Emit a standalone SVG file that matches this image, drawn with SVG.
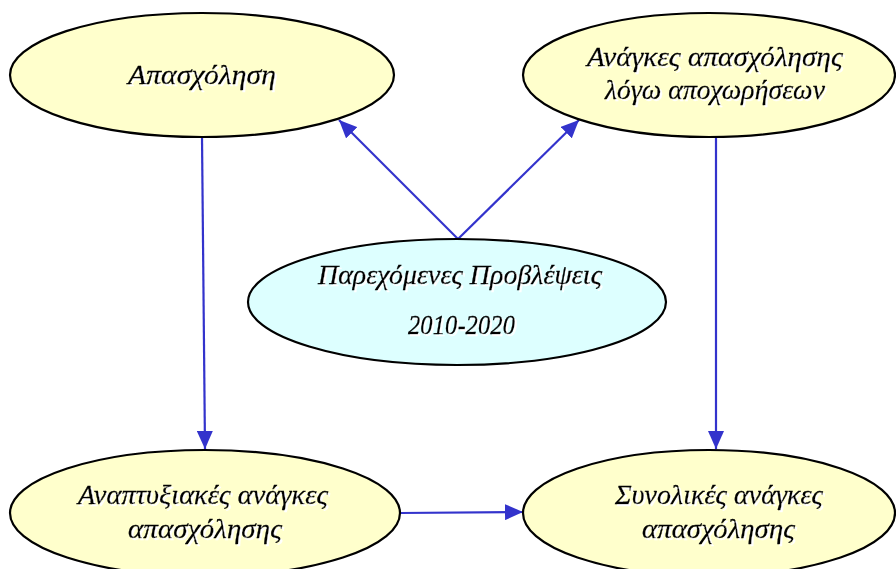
<svg xmlns="http://www.w3.org/2000/svg" width="896" height="569" viewBox="0 0 896 569">
<style>
.yel{fill:#FFFFCC;stroke:#000;stroke-width:2.2}
.cyan{fill:#DDFFFF;stroke:#000;stroke-width:2.2}
.t{font-family:"Liberation Serif","DejaVu Serif",serif;font-style:italic;font-size:28px;fill:#000;stroke:#000;stroke-width:0.3;text-anchor:start;filter:url(#sh)}
.c{stroke:#3333CC;stroke-width:2.2;fill:none;marker-end:url(#ah)}
</style>
<defs>
<filter id="sh" x="-10%" y="-30%" width="120%" height="160%">
<feDropShadow dx="2" dy="2" stdDeviation="0.6" flood-color="#FFFFFF" flood-opacity="1"/>
</filter>
<marker id="ah" markerUnits="userSpaceOnUse" markerWidth="18" markerHeight="16" refX="18" refY="8" orient="auto">
<path d="M0,0 L18,8 L0,16 Z" fill="#3333CC"/>
</marker>
</defs>
<rect width="896" height="569" fill="#FFFFFF"/>
<g id="connectors">
<line class="c" x1="202" y1="137" x2="205" y2="449"/>
<line class="c" x1="716" y1="137" x2="716" y2="449"/>
<line class="c" x1="400" y1="513" x2="523" y2="512"/>
<line class="c" x1="458" y1="239" x2="339" y2="120"/>
<line class="c" x1="458" y1="239" x2="579" y2="120"/>
</g>
<g id="n1">
<ellipse class="yel" cx="202" cy="75" rx="192" ry="62"/>
<text class="t" x="128" y="84" textLength="148" lengthAdjust="spacingAndGlyphs">Απασχόληση</text>
</g>
<g id="n2">
<ellipse class="yel" cx="709" cy="75" rx="186" ry="62"/>
<text class="t" x="587" y="66" textLength="256" lengthAdjust="spacingAndGlyphs">Ανάγκες απασχόλησης</text>
<text class="t" x="605" y="99" textLength="220" lengthAdjust="spacingAndGlyphs">λόγω αποχωρήσεων</text>
</g>
<g id="n3">
<ellipse class="cyan" cx="457" cy="302" rx="209" ry="63"/>
<text class="t" x="318" y="284" textLength="284" lengthAdjust="spacingAndGlyphs">Παρεχόμενες Προβλέψεις</text>
<text class="t" x="408" y="334" textLength="107" lengthAdjust="spacingAndGlyphs">2010-2020</text>
</g>
<g id="n4">
<ellipse class="yel" cx="205" cy="513" rx="195" ry="63"/>
<text class="t" x="78" y="504" textLength="250" lengthAdjust="spacingAndGlyphs">Αναπτυξιακές ανάγκες</text>
<text class="t" x="128" y="538" textLength="154" lengthAdjust="spacingAndGlyphs">απασχόλησης</text>
</g>
<g id="n5">
<ellipse class="yel" cx="709" cy="513" rx="186" ry="63"/>
<text class="t" x="615" y="504" textLength="208" lengthAdjust="spacingAndGlyphs">Συνολικές ανάγκες</text>
<text class="t" x="642" y="538" textLength="153" lengthAdjust="spacingAndGlyphs">απασχόλησης</text>
</g>
</svg>
